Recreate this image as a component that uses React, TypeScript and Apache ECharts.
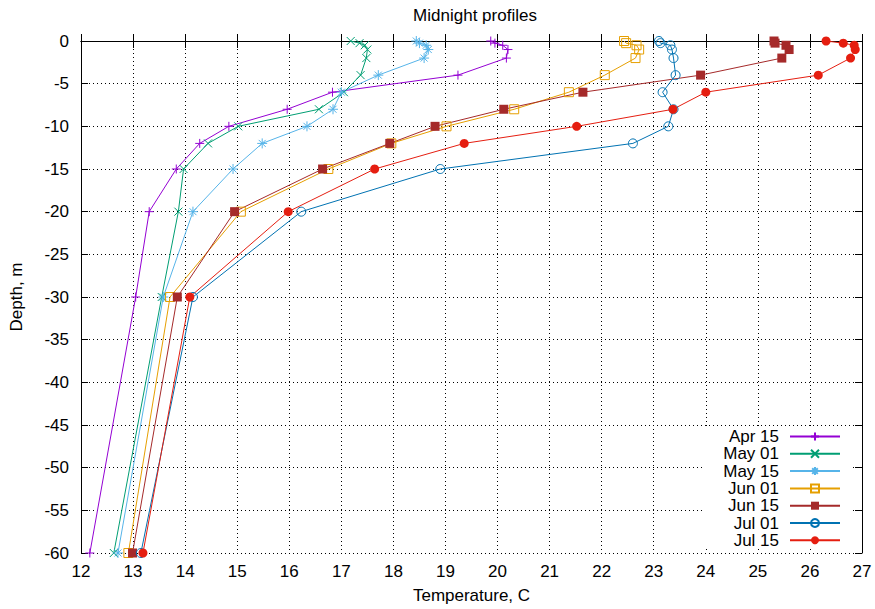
import React, { useEffect, useRef } from "react";
import * as echarts from "echarts";

const depths = [0, -0.25, -0.5, -1, -2, -4, -6, -8, -10, -12, -15, -20, -30, -60];
const seriesNames = ["Apr 15", "May 01", "May 15", "Jun 01", "Jun 15", "Jul 01", "Jul 15"];
const apr15 = [19.87, 19.95, 20.1, 20.2, 20.17, 19.24, 16.83, 15.96, 14.84, 14.28, 13.83, 13.31, 13.05, 12.17];
const may01 = [17.18, 17.35, 17.45, 17.5, 17.48, 17.37, 17.05, 16.57, 15.02, 14.44, 13.97, 13.87, 13.55, 12.63];
const may15 = [18.44, 18.5, 18.63, 18.67, 18.59, 17.71, 17.0, 16.84, 16.34, 15.48, 14.92, 14.15, 13.58, 12.71];
const jun01 = [22.43, 22.47, 22.67, 22.72, 22.65, 22.06, 21.37, 20.32, 19.02, 17.96, 16.75, 15.07, 13.71, 12.91];
const jun15 = [25.31, 25.33, 25.54, 25.6, 25.46, 23.9, 21.64, 20.12, 18.8, 17.93, 16.64, 14.95, 13.85, 12.99];
const jul01 = [23.1, 23.13, 23.32, 23.35, 23.38, 23.42, 23.17, 23.38, 23.28, 22.6, 18.9, 16.23, 14.15, 13.15];
const jul15 = [26.31, 26.64, 26.85, 26.87, 26.78, 26.16, 24.0, 23.37, 21.52, 19.36, 17.64, 15.98, 14.09, 13.19];
const allTemps = [apr15, may01, may15, jun01, jun15, jul01, jul15];

const colors = ["#9400d3", "#009e73", "#56b4e9", "#e69f00", "#a52a2a", "#0072b2", "#e51e10"];
const FONT = "'Liberation Sans', Arial, sans-serif";
const FS = 17;

const symbols: any[] = [
  { symbol: "path://M0,5L10,5M5,0L5,10", size: 9, filled: false },
  { symbol: "path://M0,0L10,10M0,10L10,0", size: 8, filled: false },
  { symbol: "path://M0,5L10,5M5,0L5,10M1.5,1.5L8.5,8.5M1.5,8.5L8.5,1.5", size: 10, filled: false },
  { symbol: "rect", size: 9, filled: false },
  { symbol: "rect", size: 9, filled: true },
  { symbol: "circle", size: 9, filled: false },
  { symbol: "circle", size: 9, filled: true },
];

export default function App() {
  const ref = useRef<HTMLDivElement>(null);
  useEffect(() => {
    if (!ref.current) return;
    const chart = echarts.init(ref.current, undefined, { renderer: "svg" });
    const series = seriesNames.map((name, i) => {
      const s = symbols[i];
      return {
        name,
        type: "line",
        xAxisIndex: 0,
        yAxisIndex: 0,
        data: allTemps[i].map((t, k) => [t, depths[k]]),
        symbol: s.symbol,
        symbolSize: s.size,
        showAllSymbol: true,
        lineStyle: { color: colors[i], width: 1 },
        itemStyle: s.filled
          ? { color: colors[i], borderWidth: 0 }
          : { color: "rgba(0,0,0,0)", borderColor: colors[i], borderWidth: 1 },
        emphasis: { disabled: true },
      };
    });
    const axisCommonX = { type: "value", min: 12, max: 27, interval: 1 };
    const axisCommonY = { type: "value", min: -60, max: 0, interval: 5 };
    chart.setOption({
      animation: false,
      backgroundColor: "#ffffff",
      textStyle: { fontFamily: FONT },
      title: {
        text: "Midnight profiles",
        left: 470,
        top: 2,
        textAlign: "center",
        textStyle: { fontFamily: FONT, fontSize: FS, fontWeight: "normal", color: "#000" },
      },
      grid: { left: 79, top: 41, right: 13, bottom: 47, containLabel: false },
      legend: {
        orient: "vertical",
        right: 25,
        top: 427,
        padding: [1, 9, 0, 20],
        backgroundColor: "#ffffff",
        align: "right",
        itemWidth: 50,
        itemHeight: 10,
        itemGap: 0.3,
        data: seriesNames,
        textStyle: { fontFamily: FONT, fontSize: FS, color: "#000", lineHeight: 17, padding: [0, 6, 0, 0] },
      },
      xAxis: [
        {
          ...axisCommonX,
          position: "bottom",
          name: "Temperature, C",
          nameLocation: "middle",
          nameGap: 34,
          nameTextStyle: { fontFamily: FONT, fontSize: FS, color: "#000" },
          axisLine: { show: true, lineStyle: { color: "#000", width: 1 } },
          axisTick: { show: true, inside: true, length: 7, lineStyle: { color: "#000" } },
          axisLabel: { fontFamily: FONT, fontSize: FS, color: "#000", margin: 10 },
          splitLine: { show: true, lineStyle: { color: "#000", width: 1, type: [1, 3] } },
        },
        {
          ...axisCommonX,
          position: "top",
          axisLine: { show: true, lineStyle: { color: "#000", width: 1 } },
          axisTick: { show: true, inside: true, length: 7, lineStyle: { color: "#000" } },
          axisLabel: { show: false },
          splitLine: { show: false },
        },
      ],
      yAxis: [
        {
          ...axisCommonY,
          position: "left",
          name: "Depth, m",
          nameLocation: "middle",
          nameGap: 56,
          nameRotate: 90,
          nameTextStyle: { fontFamily: FONT, fontSize: FS, color: "#000" },
          axisLine: { show: true, lineStyle: { color: "#000", width: 1 } },
          axisTick: { show: true, inside: true, length: 7, lineStyle: { color: "#000" } },
          axisLabel: { fontFamily: FONT, fontSize: FS, color: "#000", margin: 12 },
          splitLine: { show: true, lineStyle: { color: "#000", width: 1, type: [1, 3] } },
        },
        {
          ...axisCommonY,
          position: "right",
          axisLine: { show: true, lineStyle: { color: "#000", width: 1 } },
          axisTick: { show: true, inside: true, length: 7, lineStyle: { color: "#000" } },
          axisLabel: { show: false },
          splitLine: { show: false },
        },
      ],
      series,
    });
    return () => chart.dispose();
  }, []);
  return (
    <div
      ref={ref}
      style={{ position: "fixed", left: 0, top: 0, width: 875, height: 609, background: "#fff" }}
    />
  );
}
